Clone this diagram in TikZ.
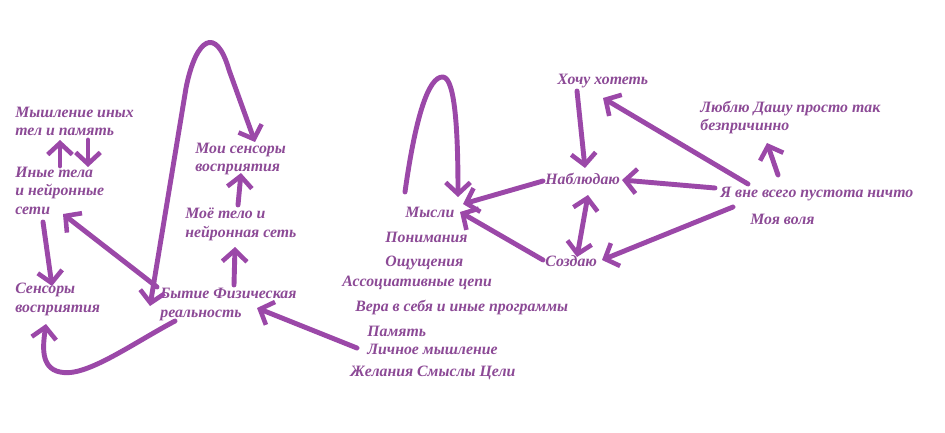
\documentclass[tikz,border=0pt]{standalone}
\usepackage{fontspec}
\setmainfont{Liberation Serif}
\usetikzlibrary{arrows.meta}
\definecolor{txtc}{RGB}{140,74,150}
\definecolor{arrc}{RGB}{155,72,168}
\tikzset{
  lbl/.style={anchor=base west, inner sep=0pt, text=txtc, align=left,
    font=\fontsize{9}{10.5}\selectfont\bfseries\itshape},
  arr/.style={draw=arrc, line width=2.8pt, line cap=round, line join=round,
    -{Straight Barb[length=6.5pt,width=14pt,line width=2.6pt]}},
  darr/.style={arr, {Straight Barb[length=6.5pt,width=14pt,line width=2.6pt]}-{Straight Barb[length=6.5pt,width=14pt,line width=2.6pt]}}
}
\begin{document}
\begin{tikzpicture}[x=0.02cm,y=-0.02cm]
\useasboundingbox (0,0) rectangle (945,432);
% texts (anchor = baseline of the last line)
\node[lbl] (myshl) at (15,136) {Мышление иных\\тел и память};
\node[lbl] (inye) at (15,214) {Иные тела\\и нейронные\\сети};
\node[lbl] (sens) at (15,312) {Сенсоры\\восприятия};
\node[lbl] (moisens) at (195,172) {Мои сенсоры\\восприятия};
\node[lbl] (moyo) at (185,237) {Моё тело и\\нейронная сеть};
\node[lbl] (bytie) at (160,317) {Бытие Физическая\\реальность};
\node[lbl] (mysli) at (405,217) {Мысли};
\node[lbl] (ponim) at (385,242) {Понимания};
\node[lbl] (oshch) at (385,266) {Ощущения};
\node[lbl] (assoc) at (342,286) {Ассоциативные цепи};
\node[lbl] (vera) at (355,311) {Вера в себя и иные программы};
\node[lbl] (pamyat) at (367,336) {Память};
\node[lbl] (lichn) at (367,354) {Личное мышление};
\node[lbl] (zhel) at (350,376) {Желания Смыслы Цели};
\node[lbl] (hochu) at (557,85) {Хочу хотеть};
\node[lbl] (lyubl) at (700,131) {Люблю Дашу просто так\\безпричинно};
\node[lbl] (nabl) at (545,184) {Наблюдаю};
\node[lbl] (ya) at (720,197) {Я вне всего пустота ничто};
\node[lbl] (volya) at (750,224) {Моя воля};
\node[lbl] (sozd) at (545,266) {Создаю};
% connector end points
\coordinate (a1s) at (60,166); \coordinate (a1e) at (60,140);
\coordinate (a2s) at (88,140); \coordinate (a2e) at (88,167);
\coordinate (a3s) at (43,222); \coordinate (a3e) at (52,286);
\coordinate (a4s) at (157,287); \coordinate (a4e) at (63,214);
\coordinate (l1s) at (150,306); \coordinate (l1e) at (255,142);
\coordinate (a6s) at (175,321); \coordinate (a6e) at (46,324);
\coordinate (a7s) at (234,285); \coordinate (a7e) at (235,247);
\coordinate (a8s) at (238,205); \coordinate (a8e) at (241,173);
\coordinate (a9s) at (357,348); \coordinate (a9e) at (257,308);
\coordinate (l2s) at (405,192); \coordinate (l2e) at (458,197);
\coordinate (b1s) at (543,181); \coordinate (b1e) at (463,204);
\coordinate (b2s) at (543,260); \coordinate (b2e) at (460,212);
\coordinate (b3s) at (588,195); \coordinate (b3e) at (577,257);
\coordinate (b4s) at (577,91); \coordinate (b4e) at (585,168);
\coordinate (b5s) at (748,184); \coordinate (b5e) at (603,98);
\coordinate (b6s) at (715,188); \coordinate (b6e) at (622,180);
\coordinate (b7s) at (733,207); \coordinate (b7e) at (602,260);
\coordinate (b8s) at (778,175); \coordinate (b8e) at (767,143);
% connectors
\draw[arr] (a1s) -- (a1e);
\draw[arr] (a2s) -- (a2e);
\draw[arr] (a3s) -- (a3e);
\draw[arr] (a4s) -- (a4e);
\draw[darr] (l1s) -- (186,88) .. controls (196,38) and (216,25) .. (229,70) -- (l1e);
\draw[arr] (a6s) .. controls (130,345) and (85,378) .. (60,372) .. controls (40,368) and (43,345) .. (a6e);
\draw[arr] (a7s) -- (a7e);
\draw[arr] (a8s) -- (a8e);
\draw[arr] (a9s) -- (a9e);
\draw[arr] (l2s) .. controls (415,120) and (428,76) .. (443,77) .. controls (456,78) and (458,140) .. (l2e);
\draw[arr] (b1s) -- (b1e);
\draw[arr] (b2s) -- (b2e);
\draw[darr] (b3s) -- (b3e);
\draw[arr] (b4s) -- (b4e);
\draw[arr] (b5s) -- (b5e);
\draw[arr] (b6s) -- (b6e);
\draw[arr] (b7s) -- (b7e);
\draw[arr] (b8s) -- (b8e);
\end{tikzpicture}
\end{document}
